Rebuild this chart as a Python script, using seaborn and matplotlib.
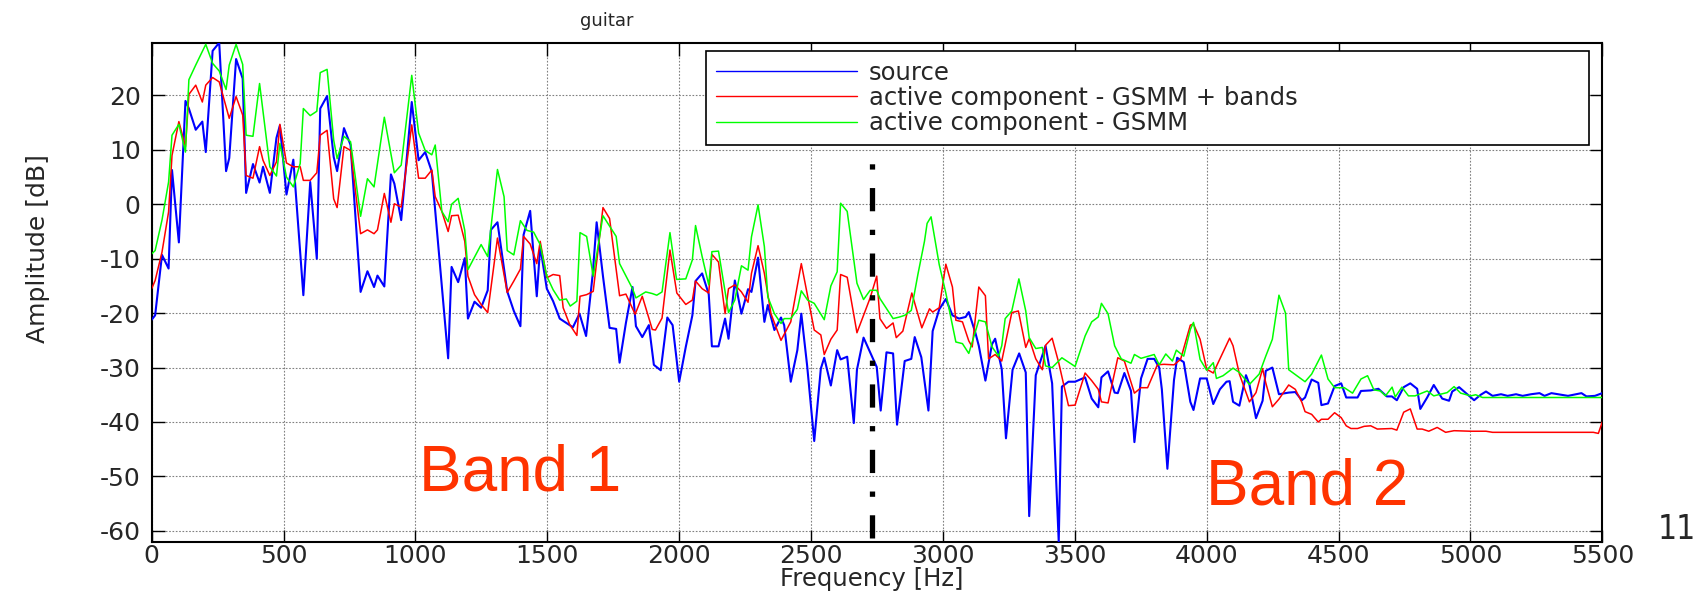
import matplotlib
matplotlib.use("Agg")
import matplotlib.pyplot as plt
import seaborn as sns
import pandas as pd

# ---------------- data (Hz, dB) ----------------
source_points = [
    (0, -21.2), (13, -20.4), (39, -9.3), (64, -11.8), (77, 6.3), (103, -7), (128, 19), (141, 17.6),
    (167, 13.7), (192, 15.2), (205, 9.6), (231, 28.2), (256, 29.7), (282, 6.1), (294, 8.5), (320, 26.7),
    (345, 23.1), (358, 2.1), (384, 7.4), (409, 4), (422, 6.9), (448, 2.1), (473, 12.2), (486, 14.5),
    (511, 1.8), (537, 8.2), (575, -16.7), (601, 4.1), (626, -10), (639, 17.6), (665, 19.9), (690, 8.7),
    (703, 6.1), (729, 14), (754, 10.9), (792, -16.1), (818, -12.3), (843, -15.2), (856, -13.1),
    (882, -15.1), (907, 5.5), (920, 3.8), (946, -2.9), (986, 18.8), (1012, 8.1), (1037, 9.6), (1062, 6),
    (1124, -28.3), (1137, -11.5), (1162, -14.3), (1187, -9.9), (1199, -21), (1224, -17.9), (1249, -19),
    (1274, -15.8), (1286, -4.7), (1311, -3.3), (1348, -16), (1373, -19.6), (1398, -22.4), (1410, -5.6),
    (1435, -1.2), (1460, -16.9), (1473, -7.7), (1498, -15.5), (1522, -17.8), (1547, -21), (1572, -21.8),
    (1597, -22.6), (1622, -20.1), (1647, -24.2), (1672, -12.9), (1687, -3.3), (1711, -13.2),
    (1736, -22.7), (1761, -22.9), (1774, -29.1), (1798, -21.8), (1823, -15.2), (1836, -22.4),
    (1860, -24.4), (1885, -22.2), (1904, -29.5), (1930, -30.5), (1955, -20.8), (1975, -22.2),
    (2000, -32.6), (2025, -26.2), (2050, -20.4), (2062, -14.1), (2087, -12.7), (2112, -16.5),
    (2124, -26.1), (2149, -26.1), (2174, -21), (2187, -24.7), (2211, -14), (2236, -20.1), (2261, -15.6),
    (2274, -16.1), (2299, -9.8), (2323, -21.6), (2336, -18.5), (2361, -23.1), (2386, -20.8),
    (2398, -22.2), (2423, -32.6), (2448, -26.8), (2463, -20.1), (2485, -29.6), (2512, -43.5),
    (2537, -30.2), (2550, -28.2), (2575, -33.3), (2599, -26.8), (2612, -28.5), (2637, -28),
    (2662, -40.2), (2674, -30.4), (2699, -24.5), (2749, -29.9), (2764, -37.9), (2786, -27.2),
    (2811, -27.4), (2826, -40.5), (2855, -28.8), (2880, -28.4), (2893, -24.4), (2918, -28.1),
    (2945, -37.9), (2961, -23.3), (2986, -19.3), (3011, -17.4), (3036, -20.4), (3061, -21),
    (3086, -20.7), (3098, -19.8), (3123, -23.6), (3136, -26), (3161, -32.4), (3186, -25.7),
    (3198, -24.7), (3223, -30.3), (3239, -43), (3264, -30.4), (3289, -27.4), (3314, -30.9),
    (3327, -57.3), (3352, -31.4), (3389, -26), (3414, -32.9), (3439, -62), (3451, -33.5),
    (3476, -32.6), (3501, -32.6), (3539, -31.8), (3564, -35.7), (3589, -37.3), (3601, -31.8),
    (3626, -30.7), (3651, -34.6), (3663, -34.7), (3688, -31), (3713, -34.3), (3726, -43.7),
    (3751, -32), (3776, -28.4), (3801, -28.4), (3820, -30), (3830, -34), (3851, -48.6), (3876, -32.3),
    (3888, -28.2), (3913, -29), (3938, -36.3), (3950, -37.8), (3975, -32), (4000, -32), (4025, -36.7),
    (4050, -34), (4075, -32.6), (4087, -32.5), (4100, -36.3), (4124, -37), (4149, -31.4),
    (4162, -33.1), (4187, -39.3), (4212, -36.1), (4224, -30.6), (4249, -30), (4274, -34.9),
    (4311, -34.6), (4336, -34.5), (4361, -36), (4373, -35.5), (4398, -32.2), (4423, -32.8),
    (4435, -36.9), (4460, -36.6), (4485, -33.4), (4510, -32.9), (4529, -35.5), (4572, -35.5),
    (4585, -34.3), (4622, -34.2), (4651, -33.9), (4683, -35.3), (4702, -35.3), (4721, -36),
    (4747, -33.6), (4772, -32.9), (4798, -33.9), (4810, -37.6), (4836, -35.5), (4861, -33.2),
    (4893, -35.7), (4919, -36.1), (4931, -34.4), (4957, -33.6), (4995, -35.2), (5014, -36),
    (5039, -35), (5059, -34.4), (5084, -35.2), (5116, -34.9), (5141, -35.2), (5173, -34.9),
    (5198, -35.2), (5230, -34.9), (5262, -34.7), (5281, -35.2), (5307, -34.7), (5345, -35),
    (5370, -35.2), (5421, -34.7), (5440, -35.3), (5472, -35.2), (5500, -34.7),
]

gsmm_bands_points = [
    (0, -15.5), (13, -14), (39, -8.8), (64, -1.4), (77, 9), (103, 15.2), (128, 10.6), (141, 20.2),
    (167, 21.9), (192, 18.8), (205, 21.9), (231, 23.3), (256, 22.5), (294, 15.8), (320, 19.8),
    (345, 16.4), (358, 5.3), (384, 4.8), (409, 10.6), (422, 8.1), (448, 5.3), (473, 7.8), (486, 14.7),
    (511, 7.6), (537, 6.9), (563, 6.9), (575, 4.4), (601, 4.4), (626, 5.8), (639, 12.7), (665, 13.6),
    (690, 1), (703, -0.6), (729, 10.6), (754, 9.9), (792, -5.4), (818, -4.7), (843, -5.4), (856, -4.7),
    (882, 2), (907, -3.3), (920, 0.1), (946, -0.5), (986, 14.6), (1012, 4.8), (1037, 4.8), (1062, 6.3),
    (1075, 1.4), (1100, -1.3), (1124, -5), (1137, -2.1), (1162, -2), (1187, -6.8), (1199, -13.2),
    (1224, -16.6), (1249, -18.4), (1274, -19.9), (1311, -6.2), (1348, -16.2), (1373, -14.1),
    (1398, -11.9), (1410, -5.9), (1435, -7.3), (1460, -10.9), (1473, -6.8), (1498, -13.5),
    (1522, -12.9), (1547, -13.1), (1560, -19), (1585, -22.1), (1612, -24.1), (1624, -16.9),
    (1649, -16.6), (1674, -16), (1711, -0.6), (1736, -2.6), (1774, -16.8), (1798, -16.5),
    (1833, -20.2), (1860, -16.9), (1898, -23), (1910, -23.1), (1935, -20.9), (1965, -8.4),
    (1991, -16.3), (2025, -18.4), (2050, -17.6), (2062, -14.1), (2087, -15.5), (2112, -16.3),
    (2124, -9.2), (2149, -10.6), (2174, -20.1), (2187, -15.5), (2211, -14.8), (2236, -16.1),
    (2261, -18), (2274, -12.7), (2299, -7.6), (2323, -12.7), (2348, -20.1), (2386, -25),
    (2423, -21.6), (2463, -10.9), (2487, -16.9), (2512, -23.1), (2537, -24), (2550, -27.6),
    (2575, -24.8), (2599, -23.1), (2612, -12.9), (2637, -13.4), (2674, -23.6), (2699, -20.4),
    (2724, -17.2), (2749, -13.2), (2761, -21), (2786, -22.8), (2811, -21.8), (2823, -24.5),
    (2848, -23.3), (2882, -16.3), (2920, -22.7), (2949, -19.2), (2961, -19.8), (2986, -19),
    (3011, -11), (3036, -15.2), (3049, -21.3), (3074, -21.6), (3098, -25.1), (3111, -26.2),
    (3136, -15.2), (3161, -16.8), (3173, -28.4), (3198, -27.6), (3223, -28.8), (3261, -19.9),
    (3286, -19.6), (3314, -26.3), (3327, -24.7), (3352, -28.4), (3377, -30.4), (3389, -25.9),
    (3414, -24.6), (3439, -29.1), (3476, -37), (3501, -36.9), (3539, -31), (3564, -32.4),
    (3589, -34), (3601, -36.3), (3626, -36.5), (3663, -28.2), (3688, -28.8), (3726, -34.7),
    (3751, -33.7), (3776, -33.7), (3813, -29.5), (3838, -29.4), (3876, -29.5), (3901, -28.5),
    (3938, -22.2), (3950, -22), (3975, -24.8), (4000, -30.3), (4025, -31), (4087, -24.6),
    (4100, -26), (4124, -31.2), (4162, -36.3), (4187, -34.6), (4212, -30.2), (4224, -32.8),
    (4249, -37.2), (4274, -35.8), (4311, -33.2), (4336, -34), (4361, -36.4), (4373, -38.1),
    (4398, -38.6), (4423, -40), (4435, -39.5), (4460, -39.5), (4485, -38.3), (4510, -39.2),
    (4529, -40.7), (4547, -41.2), (4572, -41.2), (4597, -40.8), (4622, -40.7), (4647, -41.3),
    (4702, -41.2), (4721, -41.5), (4747, -38.2), (4772, -37.6), (4798, -41.3), (4817, -41.3),
    (4842, -41.7), (4874, -41), (4906, -41.9), (4938, -41.6), (5001, -41.7), (5059, -41.7),
    (5084, -41.9), (5466, -41.9), (5485, -42.1), (5500, -40),
]

gsmm_points = [
    (0, -9.1), (13, -8.5), (39, -2.9), (64, 4.1), (77, 12.7), (103, 14.7), (128, 9.6), (141, 22.9),
    (167, 25.6), (205, 29.4), (231, 25.9), (256, 24.5), (282, 21.1), (294, 25.6), (320, 29.4),
    (345, 25.7), (358, 12.7), (384, 12.5), (409, 22.2), (448, 6.9), (473, 5.2), (486, 11.2),
    (511, 5), (537, 3.2), (563, 7.5), (575, 17.6), (601, 16.3), (626, 17.1), (639, 24.2), (665, 24.8),
    (690, 11.8), (703, 8.4), (729, 12.5), (754, 11.5), (792, -2.2), (818, 4.7), (843, 3.2), (882, 16),
    (920, 5.8), (946, 7.2), (986, 23.7), (1012, 13.1), (1037, 9.9), (1062, 9.1), (1075, 10.9),
    (1100, -1.3), (1124, -3.2), (1137, 0), (1162, 1.1), (1187, -4.8), (1199, -12), (1249, -7.4),
    (1274, -9.6), (1311, 6.4), (1336, 1.4), (1348, -8.5), (1373, -9.3), (1398, -3), (1423, -4.8),
    (1448, -5.1), (1473, -7.4), (1498, -13.2), (1522, -15.7), (1547, -17.6), (1572, -17.4),
    (1587, -18.7), (1612, -17.8), (1624, -5.2), (1649, -5.9), (1674, -13.2), (1711, -2.1),
    (1761, -5.9), (1774, -10.9), (1823, -15.5), (1836, -17.2), (1873, -16.1), (1898, -16.4),
    (1915, -16.7), (1935, -16.1), (1965, -5.2), (1990, -13.8), (2025, -13.7), (2050, -10.2),
    (2062, -3.9), (2087, -9.6), (2112, -14.8), (2124, -8.7), (2149, -8.6), (2187, -19.9),
    (2211, -17.6), (2236, -11.3), (2261, -12.1), (2274, -6), (2299, -0.1), (2323, -7.8), (2336, -17),
    (2361, -20.1), (2386, -21.9), (2398, -21), (2423, -21), (2448, -19.3), (2463, -15.9),
    (2487, -17.6), (2512, -18.2), (2550, -21.2), (2575, -15), (2599, -12.4), (2612, 0.2),
    (2637, -1.3), (2674, -14.5), (2699, -17.5), (2724, -15.8), (2749, -15.8), (2761, -17.3),
    (2811, -21), (2836, -20.7), (2855, -20.4), (2880, -19.5), (2905, -12.9), (2930, -6.8),
    (2940, -3.5), (2955, -2.3), (2986, -11.1), (3011, -16.3), (3049, -25.3), (3074, -25.6),
    (3098, -27.4), (3136, -21.3), (3161, -21.6), (3186, -26.2), (3211, -27.9), (3223, -26),
    (3236, -21), (3261, -19.6), (3288, -13.7), (3314, -19.6), (3327, -24.5), (3352, -26.5),
    (3377, -26.3), (3389, -29.7), (3414, -30), (3451, -28.2), (3501, -29.8), (3539, -24.2),
    (3564, -21.6), (3589, -20.7), (3601, -18.2), (3626, -20.1), (3651, -26), (3676, -28.4),
    (3713, -29.2), (3726, -27.6), (3751, -28.3), (3801, -27.6), (3820, -29.5), (3845, -27.5),
    (3870, -28.8), (3885, -26.8), (3913, -27.9), (3938, -23), (3950, -21.7), (3975, -28.5),
    (4000, -30.5), (4025, -29.1), (4037, -32), (4062, -31.5), (4100, -30.1), (4124, -30.9),
    (4162, -33.1), (4199, -31.2), (4224, -27.9), (4249, -24.8), (4274, -16.7), (4299, -20),
    (4311, -30.4), (4373, -32.6), (4398, -31.2), (4435, -27.7), (4460, -32.1), (4485, -33.7),
    (4522, -33.7), (4553, -34.7), (4585, -32.1), (4610, -31.5), (4634, -34.1), (4659, -34.3),
    (4678, -35.2), (4703, -33.6), (4715, -35.4), (4740, -33.6), (4765, -35.2), (4790, -35.2),
    (4836, -34.3), (4861, -35.2), (4887, -34.9), (4912, -34.6), (4938, -33.5), (4963, -34.7),
    (5001, -35.2), (5020, -35), (5046, -35.5), (5500, -35.5),
]

series_labels = ["source", "active component - GSMM + bands", "active component - GSMM"]
series_colors = ["#0000ff", "#ff0000", "#00ff00"]
x_ticks = [0, 500, 1000, 1500, 2000, 2500, 3000, 3500, 4000, 4500, 5000, 5500]
y_ticks = [-60, -50, -40, -30, -20, -10, 0, 10, 20]
x_limits = (0, 5500)
y_limits = (-62, 29.7)
band_split_hz = 2730
band_split_db = (-61.3, 7.9)
band_labels = [("Band 1", 1013, -52.6), ("Band 2", 3997, -55.2)]
title_text = "guitar"
x_label = "Frequency [Hz]"
y_label = "Amplitude [dB]"
page_number = "11"

# ---------------- figure ----------------
sns.set_theme(style="white")
plt.rcParams["font.family"] = ["DejaVu Sans"]

W, H = 1700, 594
fig = plt.figure(figsize=(W / 100, H / 100), dpi=100)
fig.patch.set_facecolor("white")
ax_l, ax_r, ax_t, ax_b = 151.7, 1602.3, 42.7, 541.7
ax = fig.add_axes([ax_l / W, 1 - ax_b / H, (ax_r - ax_l) / W, (ax_b - ax_t) / H])
ax.set_facecolor("white")

widths = [1.5, 1.1, 1.1]
for pts, lab, col, lw in zip([source_points, gsmm_bands_points, gsmm_points],
                             series_labels, series_colors, widths):
    df = pd.DataFrame(pts, columns=["hz", "db"])
    sns.lineplot(data=df, x="hz", y="db", color=col, linewidth=lw, label=lab,
                 sort=False, estimator=None, ax=ax, zorder=3)

# band split dash-dot line
ax.plot([band_split_hz, band_split_hz], list(band_split_db), color="black",
        linewidth=3.8, dashes=(4.4, 3.5, 1.0, 3.5), solid_capstyle="butt",
        dash_capstyle="butt", zorder=5)

for txt, bx, by in band_labels:
    ax.text(bx, by, txt, color="#ff3300", fontsize=46, family=["Liberation Sans"],
            ha="left", va="baseline", zorder=6)

ax.set_xlim(*x_limits)
ax.set_ylim(*y_limits)
ax.set_xticks(x_ticks)
ax.set_yticks(y_ticks)
ax.set_xticklabels([str(v) for v in x_ticks])
ax.set_yticklabels([str(v) for v in y_ticks])
ax.tick_params(axis="both", direction="in", length=9, width=1.0, color="black",
               labelsize=18, top=True, right=True, bottom=True, left=True)
ax.tick_params(axis="x", pad=2)
ax.tick_params(axis="y", pad=8)
ax.grid(True, color="#808080", linestyle=(0, (1.5, 1.5)), linewidth=0.8, zorder=0)
ax.set_axisbelow(True)
for sp in ax.spines.values():
    sp.set_visible(True)
    sp.set_color("black")
    sp.set_linewidth(1.5)

ax.set_xlabel("")
ax.set_ylabel("")
fig.text(872 / W, 1 - 586 / H, x_label, ha="center", va="baseline", fontsize=17.5)
fig.text(38 / W, 1 - 249 / H, y_label, ha="center", va="center", rotation=90, fontsize=18)
fig.text(607 / W, 1 - 26 / H, title_text, ha="center", va="baseline", fontsize=13)
fig.text(1658 / W, 1 - 539 / H, page_number, ha="left", va="baseline", fontsize=24,
         fontstretch="condensed")

# legend
lx0, lx1, ly0, ly1 = 706, 1589, 51, 141
bb = ((lx0 - ax_l) / (ax_r - ax_l), (ax_b - ly1) / (ax_b - ax_t),
      (lx1 - lx0) / (ax_r - ax_l), (ly1 - ly0) / (ax_b - ax_t))
leg = ax.legend(loc="upper left", bbox_to_anchor=bb, mode="expand", borderaxespad=0,
                fontsize=17.5, frameon=True, fancybox=False, shadow=False, framealpha=1,
                edgecolor="black", handlelength=5.8, handletextpad=0.5, labelspacing=0.05,
                borderpad=0.4)
leg.get_frame().set_linewidth(1.2)
for h in leg.get_lines():
    h.set_linewidth(1.0)
leg.set_zorder(10)

fig.savefig("out.png", dpi=100, facecolor="white")
